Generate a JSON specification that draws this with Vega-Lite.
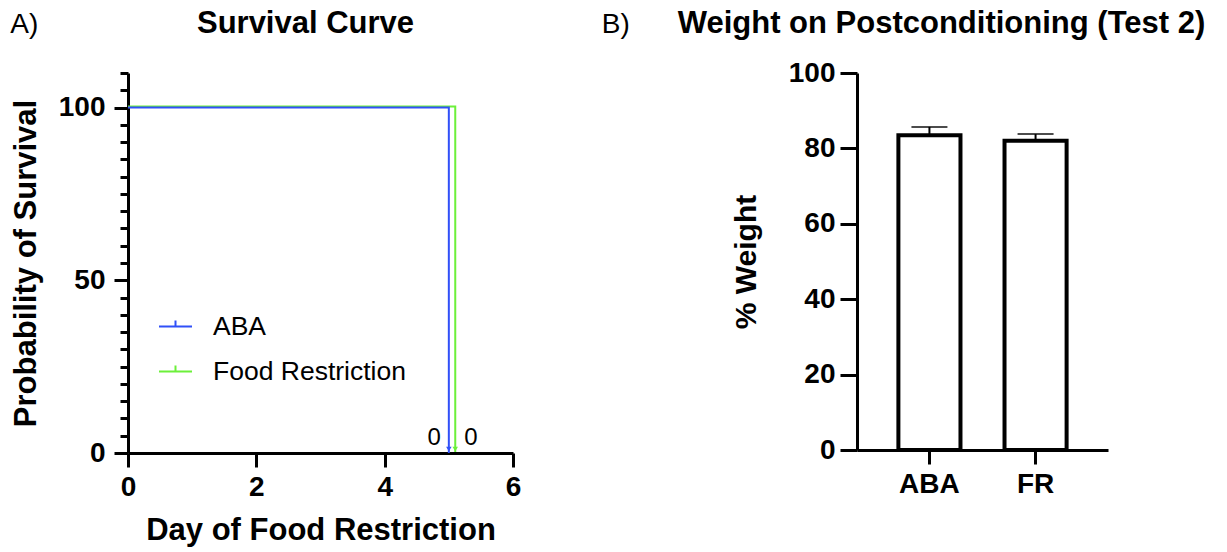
{
  "$schema": "https://vega.github.io/schema/vega-lite/v6.json",
  "padding": {"left": 10, "top": 8, "right": 5, "bottom": 5},
  "spacing": 80,
  "config": {
    "font": "Liberation Sans",
    "view": {"stroke": null},
    "axis": {
      "grid": false,
      "domainColor": "black",
      "domainWidth": 3,
      "tickColor": "black",
      "tickWidth": 3,
      "labelColor": "black",
      "labelFont": "Liberation Sans",
      "labelFontSize": 28,
      "labelFontWeight": "bold",
      "titleColor": "black",
      "titleFont": "Liberation Sans",
      "titleFontSize": 31,
      "titleFontWeight": "bold",
      "labelFlush": false,
      "labelOverlap": false
    },
    "title": {"color": "black", "font": "Liberation Sans", "fontSize": 31, "fontWeight": "bold"}
  },
  "hconcat": [
    {
      "title": {"text": "A)", "anchor": "start", "fontWeight": "normal", "fontSize": 28, "offset": -31},
      "vconcat": [
        {
          "width": 385,
          "height": 380,
          "title": {"text": "Survival Curve", "dx": -15, "offset": 19},
          "data": {
            "values": [
              {"group": "ABA", "day": 0, "prob": 100},
              {"group": "ABA", "day": 5, "prob": 0, "n": 0},
              {"group": "Food Restriction", "day": 0, "prob": 100},
              {"group": "Food Restriction", "day": 5.1, "prob": 0, "n": 0}
            ]
          },
          "encoding": {
            "x": {
              "field": "day", "type": "quantitative",
              "scale": {"domain": [0, 6], "nice": false},
              "axis": {"values": [0, 2, 4, 6], "title": "Day of Food Restriction", "tickSize": 14, "labelPadding": 6, "titlePadding": 14}
            },
            "y": {
              "field": "prob", "type": "quantitative",
              "scale": {"domain": [0, 110], "nice": false},
              "axis": {
                "values": [0, 5, 10, 15, 20, 25, 30, 35, 40, 45, 50, 55, 60, 65, 70, 75, 80, 85, 90, 95, 100, 105, 110],
                "labelExpr": "datum.value % 50 === 0 ? datum.label : ''",
                "tickSize": {"condition": {"test": "datum.value % 50 === 0", "value": 14}, "value": 8},
                "labelPadding": 9,
                "title": "Probability of Survival",
                "titlePadding": 16
              }
            }
          },
          "layer": [
            {
              "transform": [{"filter": "datum.group === 'Food Restriction'"}],
              "mark": {"type": "line", "interpolate": "step-after", "strokeWidth": 2, "yOffset": -1},
              "encoding": {
                "color": {
                  "field": "group", "type": "nominal",
                  "scale": {"domain": ["ABA", "Food Restriction"], "range": ["#3050f8", "#6cf03a"]},
                  "legend": {
                    "title": null, "orient": "none", "legendX": 30, "legendY": 236,
                    "symbolType": "M-1,0H1M0,0V-0.36", "symbolSize": 1089, "symbolStrokeWidth": 2,
                    "labelFontSize": 26.5, "labelFontWeight": "normal", "labelColor": "black", "labelLimit": 500,
                    "labelOffset": 20, "rowPadding": 14
                  }
                }
              }
            },
            {
              "transform": [{"filter": "datum.group === 'ABA'"}],
              "mark": {"type": "line", "interpolate": "step-after", "strokeWidth": 2},
              "encoding": {"color": {"field": "group", "type": "nominal"}}
            },
            {
              "transform": [{"filter": "datum.prob === 0"}],
              "mark": {"type": "point", "shape": "triangle-down", "filled": true, "size": 30, "yOffset": -4, "opacity": 1},
              "encoding": {"color": {"field": "group", "type": "nominal"}}
            },
            {
              "transform": [{"filter": "datum.prob === 0 && datum.group === 'ABA'"}],
              "mark": {"type": "text", "align": "right", "baseline": "alphabetic", "dx": -8, "dy": -8, "fontSize": 24, "color": "black"},
              "encoding": {"text": {"field": "n", "type": "quantitative"}}
            },
            {
              "transform": [{"filter": "datum.prob === 0 && datum.group === 'Food Restriction'"}],
              "mark": {"type": "text", "align": "left", "baseline": "alphabetic", "dx": 9, "dy": -8, "fontSize": 24, "color": "black"},
              "encoding": {"text": {"field": "n", "type": "quantitative"}}
            }
          ]
        }
      ]
    },
    {
      "title": {"text": "B)", "anchor": "start", "fontWeight": "normal", "fontSize": 28, "offset": -31, "dx": -76},
      "vconcat": [
        {
          "width": 251,
          "height": 377,
          "title": {"text": "Weight on Postconditioning (Test 2)", "dx": -41, "offset": 19},
          "data": {
            "values": [
              {"group": "ABA", "weight": 83.5, "upper": 85.7},
              {"group": "FR", "weight": 82.0, "upper": 83.8}
            ]
          },
          "encoding": {
            "x": {
              "field": "group", "type": "nominal",
              "scale": {"paddingInner": 0.415, "paddingOuter": 0.39},
              "axis": {"title": null, "labelAngle": 0, "tickSize": 14, "labelPadding": 6}
            }
          },
          "layer": [
            {
              "mark": {"type": "bar", "fill": "white", "stroke": "black", "strokeWidth": 4},
              "encoding": {
                "y": {
                  "field": "weight", "type": "quantitative",
                  "scale": {"domain": [0, 100], "nice": false},
                  "axis": {"values": [0, 20, 40, 60, 80, 100], "title": "% Weight", "titleFontSize": 30, "tickSize": 17, "labelPadding": 5, "titlePadding": 27}
                }
              }
            },
            {
              "mark": {"type": "rule", "color": "black", "strokeWidth": 2},
              "encoding": {"y": {"field": "weight", "type": "quantitative"}, "y2": {"field": "upper"}}
            },
            {
              "mark": {"type": "tick", "color": "black", "thickness": 2, "size": 36},
              "encoding": {"y": {"field": "upper", "type": "quantitative"}}
            }
          ]
        }
      ]
    }
  ]
}
